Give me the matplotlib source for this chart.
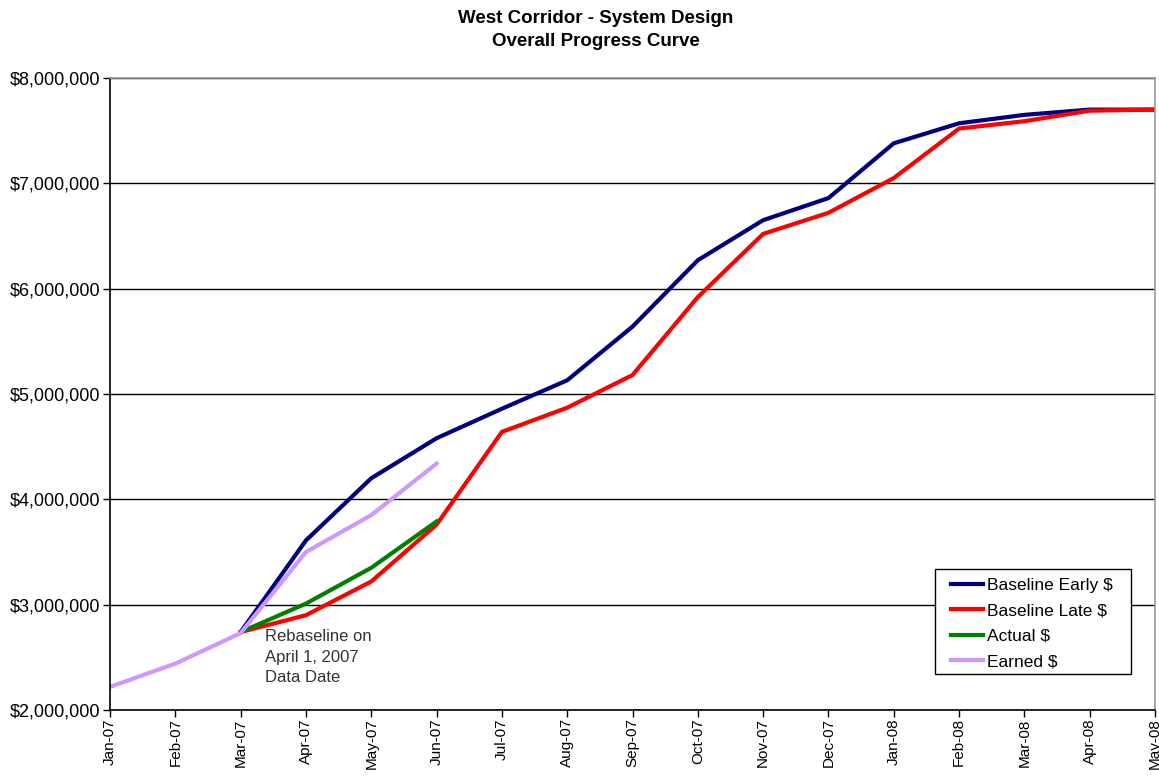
import numpy as np
import matplotlib
matplotlib.use("Agg")
import matplotlib.pyplot as plt
from matplotlib.ticker import FuncFormatter
from matplotlib.patches import Rectangle

plt.rcParams['font.family'] = ['Liberation Sans', 'DejaVu Sans']

months = ["Jan-07", "Feb-07", "Mar-07", "Apr-07", "May-07", "Jun-07", "Jul-07", "Aug-07",
          "Sep-07", "Oct-07", "Nov-07", "Dec-07", "Jan-08", "Feb-08", "Mar-08", "Apr-08", "May-08"]
nan = np.nan
baseline_early = [nan, nan, 2.74, 3.61, 4.20, 4.58, 4.86, 5.13, 5.64, 6.27, 6.65, 6.86, 7.38, 7.57, 7.65, 7.70, 7.70]
baseline_late = [nan, nan, 2.74, 2.90, 3.22, 3.76, 4.64, 4.87, 5.18, 5.92, 6.52, 6.72, 7.05, 7.52, 7.59, 7.69, 7.70]
actual = [nan, nan, 2.74, 3.01, 3.35, 3.79, nan, nan, nan, nan, nan, nan, nan, nan, nan, nan, nan]
earned = [2.22, 2.44, 2.73, 3.50, 3.85, 4.34, nan, nan, nan, nan, nan, nan, nan, nan, nan, nan, nan]
series_names = ["Baseline Early $", "Baseline Late $", "Actual $", "Earned $"]
series_colors = ["#000080", "#FF0000", "#008000", "#CC99FF"]
y_ticks = [2, 3, 4, 5, 6, 7, 8]

W, H = 1159, 781
fig = plt.figure(figsize=(W/100, H/100), dpi=100)
ax = fig.add_axes([110/W, 1-710/H, (1155-110)/W, (710-78)/H])

x = np.arange(len(months))
for vals, name, col in zip([baseline_early, baseline_late, actual, earned], series_names, series_colors):
    ax.plot(x, np.array(vals) * 1e6, color=col, lw=3, label=name, solid_joinstyle='miter')

ax.set_xlim(0, len(months) - 1)
ax.set_ylim(2e6, 8e6)
ax.set_yticks([v * 1e6 for v in y_ticks])
ax.yaxis.set_major_formatter(FuncFormatter(lambda v, p: "${:,.0f}".format(v)))
ax.set_xticks(x)
ax.set_xticklabels(months, rotation=90, fontsize=11)
ax.tick_params(axis='y', labelsize=13, direction='out', length=5, width=1, pad=2)
ax.tick_params(axis='x', direction='out', length=5, width=1, pad=1)
ax.grid(axis='y', color='black', lw=1)
ax.set_axisbelow(True)
for s in ['left', 'bottom']:
    ax.spines[s].set_color('black')
    ax.spines[s].set_linewidth(1.2)
for s in ['top', 'right']:
    ax.spines[s].set_color('#999999')
    ax.spines[s].set_linewidth(1.2)

ax.text(2.38, 2.765e6, "Rebaseline on\nApril 1, 2007\nData Date", fontsize=12,
        color='#333333', va='top', ha='left', linespacing=1.45)

# legend frame drawn as a box, legend entries placed inside it
box = Rectangle((935/W, 1-674/H), (1131-935)/W, (674-569)/H, transform=fig.transFigure,
                facecolor='white', edgecolor='black', lw=1, zorder=4, clip_on=False)
ax.add_patch(box)
leg = ax.legend(loc='upper left', bbox_to_anchor=(951/W, 1-578/H), bbox_transform=fig.transFigure,
                borderaxespad=0, borderpad=0, fontsize=12.5, frameon=False,
                handlelength=1.85, handletextpad=0.23, labelspacing=0.59)
leg.set_zorder(6)

fig.text(596/W, 1-10/H, "West Corridor - System Design\nOverall Progress Curve",
         ha='center', va='top', fontsize=13.5, fontweight='bold', linespacing=1.45)

fig.savefig("out.png", dpi=100)
